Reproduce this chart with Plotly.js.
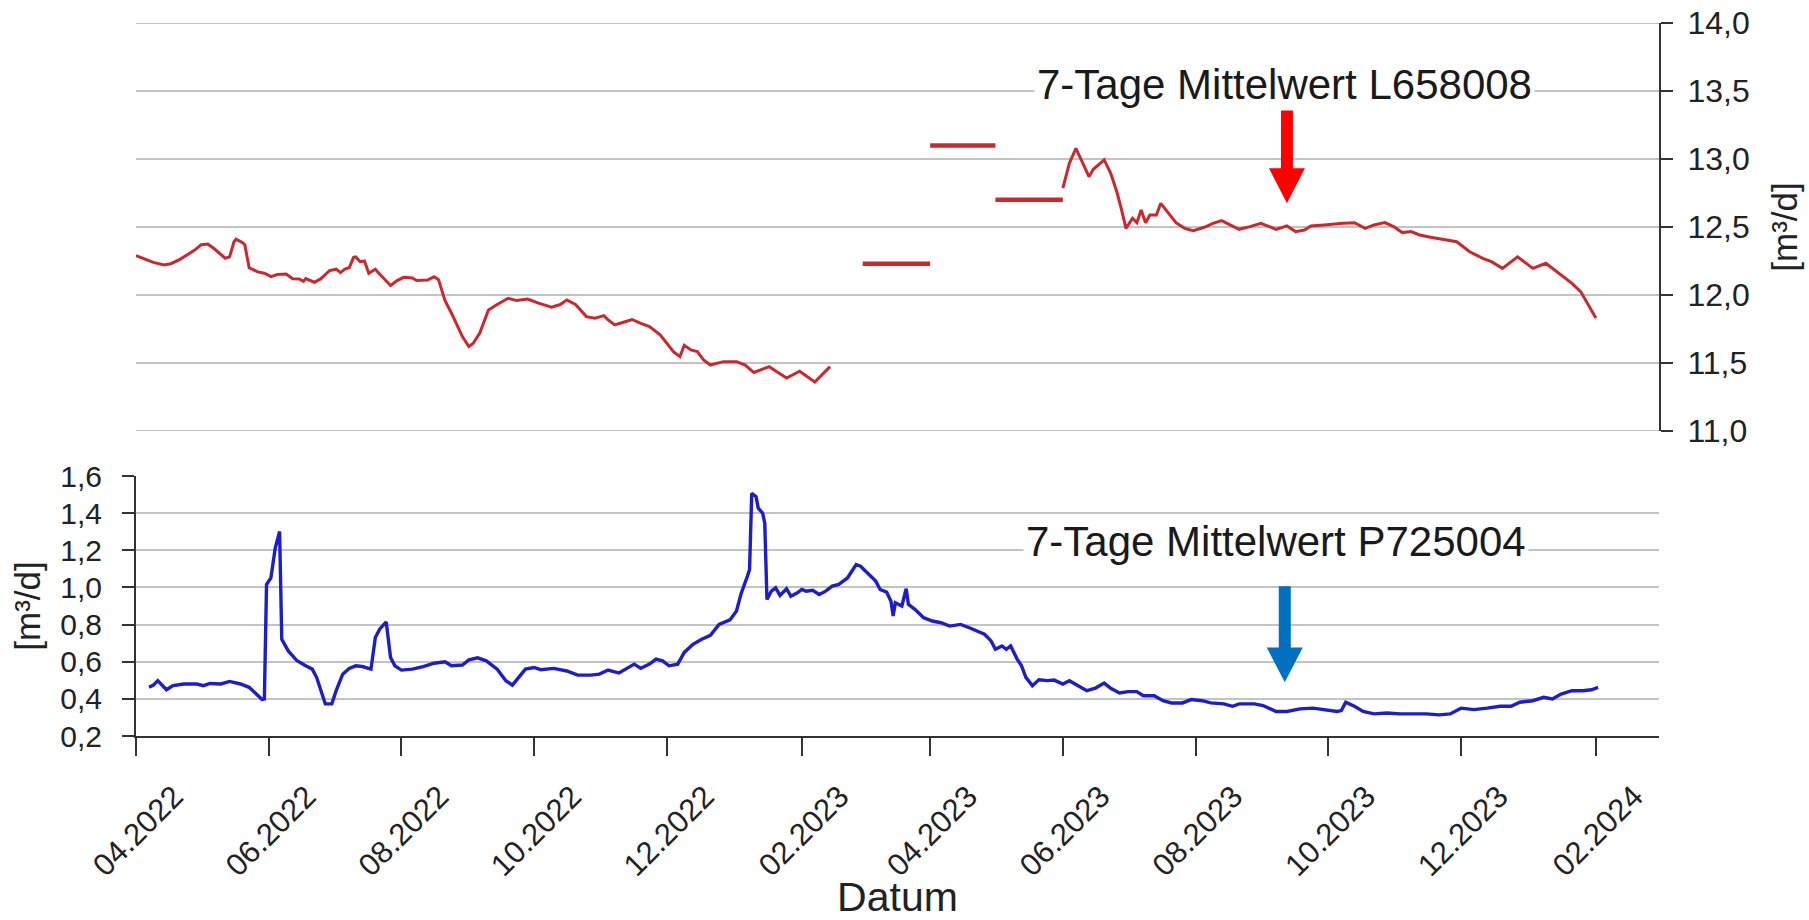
<!DOCTYPE html>
<html>
<head>
<meta charset="utf-8">
<script src="https://cdn.plot.ly/plotly-3.0.1.min.js"></script>
<style>html,body{margin:0;padding:0;background:#fff;}#chart{width:1809px;height:920px;}</style>
</head>
<body>
<div id="chart"></div>
<script>
// ---- Data ----
const redDates1 = ['2022-04-01','2022-04-04','2022-04-09','2022-04-14','2022-04-17','2022-04-21','2022-04-25','2022-04-28','2022-05-01','2022-05-04','2022-05-07','2022-05-10','2022-05-12','2022-05-14','2022-05-16','2022-05-17','2022-05-20','2022-05-21','2022-05-23','2022-05-27','2022-05-30','2022-06-02','2022-06-05','2022-06-09','2022-06-12','2022-06-15','2022-06-17','2022-06-18','2022-06-22','2022-06-25','2022-06-29','2022-07-02','2022-07-04','2022-07-06','2022-07-08','2022-07-10','2022-07-11','2022-07-13','2022-07-15','2022-07-17','2022-07-20','2022-07-21','2022-07-24','2022-07-27','2022-07-30','2022-08-02','2022-08-06','2022-08-08','2022-08-13','2022-08-16','2022-08-18','2022-08-21','2022-08-24','2022-08-27','2022-08-29','2022-09-01','2022-09-03','2022-09-06','2022-09-10','2022-09-14','2022-09-19','2022-09-23','2022-09-28','2022-10-03','2022-10-09','2022-10-13','2022-10-16','2022-10-20','2022-10-25','2022-10-29','2022-11-02','2022-11-04','2022-11-07','2022-11-11','2022-11-15','2022-11-19','2022-11-23','2022-11-28','2022-12-01','2022-12-04','2022-12-07','2022-12-09','2022-12-12','2022-12-15','2022-12-18','2022-12-21','2022-12-27','2023-01-02','2023-01-06','2023-01-10','2023-01-17','2023-01-25','2023-01-31','2023-02-07','2023-02-14'];
const redVals1 = [12.29,12.27,12.24,12.22,12.23,12.26,12.30,12.33,12.37,12.375,12.34,12.30,12.27,12.28,12.39,12.41,12.385,12.37,12.20,12.17,12.16,12.135,12.15,12.155,12.12,12.118,12.10,12.12,12.094,12.12,12.18,12.19,12.165,12.19,12.20,12.277,12.28,12.245,12.25,12.16,12.19,12.17,12.12,12.07,12.106,12.13,12.125,12.106,12.11,12.135,12.115,11.96,11.866,11.756,11.694,11.62,11.645,11.72,11.89,11.93,11.976,11.959,11.97,11.94,11.91,11.93,11.964,11.93,11.841,11.829,11.848,11.817,11.78,11.80,11.82,11.792,11.768,11.706,11.645,11.584,11.547,11.63,11.596,11.584,11.52,11.485,11.51,11.51,11.485,11.43,11.473,11.39,11.44,11.36,11.473];

const redDates2 = ['2023-06-01','2023-06-04','2023-06-07','2023-06-10','2023-06-13','2023-06-15','2023-06-20','2023-06-23','2023-06-26','2023-06-28','2023-06-30','2023-07-03','2023-07-05','2023-07-07','2023-07-09','2023-07-11','2023-07-14','2023-07-16','2023-07-19','2023-07-23','2023-07-27','2023-07-31','2023-08-05','2023-08-09','2023-08-13','2023-08-17','2023-08-21','2023-08-26','2023-08-31','2023-09-03','2023-09-07','2023-09-12','2023-09-16','2023-09-20','2023-09-23','2023-09-29','2023-10-03','2023-10-08','2023-10-13','2023-10-18','2023-10-22','2023-10-27','2023-10-31','2023-11-04','2023-11-08','2023-11-12','2023-11-17','2023-11-23','2023-11-29','2023-12-05','2023-12-11','2023-12-15','2023-12-20','2023-12-27','2024-01-03','2024-01-09','2024-01-15','2024-01-21','2024-01-25','2024-01-28','2024-02-01'];
const redVals2 = [12.785,12.968,13.079,12.968,12.87,12.924,12.993,12.895,12.748,12.625,12.49,12.564,12.532,12.625,12.532,12.588,12.588,12.674,12.613,12.532,12.49,12.473,12.498,12.527,12.547,12.515,12.483,12.503,12.527,12.508,12.483,12.508,12.466,12.478,12.508,12.515,12.522,12.527,12.532,12.49,12.515,12.532,12.503,12.459,12.466,12.441,12.424,12.41,12.392,12.318,12.27,12.245,12.196,12.28,12.196,12.233,12.16,12.086,12.025,11.94,11.83];

// monthly mean segments (gap period)
const monthStart = ['2023-03-01','2023-04-01','2023-05-01'];
const monthEnd   = ['2023-04-01','2023-05-01','2023-06-01'];
const monthVals  = [12.23, 13.10, 12.70];

const blueDates = ['2022-04-07','2022-04-09','2022-04-11','2022-04-14','2022-04-15','2022-04-18','2022-04-23','2022-04-29','2022-05-02','2022-05-05','2022-05-10','2022-05-14','2022-05-19','2022-05-23','2022-05-26','2022-05-29','2022-05-30','2022-05-31','2022-06-02','2022-06-04','2022-06-06','2022-06-07','2022-06-10','2022-06-14','2022-06-18','2022-06-21','2022-06-23','2022-06-25','2022-06-27','2022-06-30','2022-07-02','2022-07-05','2022-07-08','2022-07-11','2022-07-14','2022-07-18','2022-07-20','2022-07-22','2022-07-25','2022-07-27','2022-07-29','2022-08-01','2022-08-06','2022-08-11','2022-08-16','2022-08-21','2022-08-24','2022-08-29','2022-09-01','2022-09-05','2022-09-09','2022-09-14','2022-09-18','2022-09-21','2022-09-24','2022-09-27','2022-10-01','2022-10-04','2022-10-10','2022-10-16','2022-10-21','2022-10-27','2022-10-31','2022-11-04','2022-11-09','2022-11-13','2022-11-16','2022-11-19','2022-11-23','2022-11-26','2022-11-29','2022-12-02','2022-12-06','2022-12-09','2022-12-13','2022-12-17','2022-12-21','2022-12-25','2022-12-30','2023-01-02','2023-01-04','2023-01-07','2023-01-08','2023-01-09','2023-01-11','2023-01-12','2023-01-14','2023-01-15','2023-01-16','2023-01-18','2023-01-20','2023-01-22','2023-01-25','2023-01-27','2023-01-30','2023-02-01','2023-02-03','2023-02-06','2023-02-09','2023-02-12','2023-02-15','2023-02-18','2023-02-22','2023-02-24','2023-02-26','2023-02-28','2023-03-03','2023-03-07','2023-03-09','2023-03-12','2023-03-14','2023-03-15','2023-03-16','2023-03-19','2023-03-21','2023-03-22','2023-03-25','2023-03-29','2023-04-02','2023-04-06','2023-04-10','2023-04-15','2023-04-19','2023-04-22','2023-04-26','2023-04-29','2023-05-01','2023-05-04','2023-05-06','2023-05-08','2023-05-11','2023-05-13','2023-05-15','2023-05-18','2023-05-21','2023-05-25','2023-05-28','2023-06-01','2023-06-04','2023-06-08','2023-06-12','2023-06-16','2023-06-20','2023-06-23','2023-06-27','2023-07-01','2023-07-05','2023-07-08','2023-07-13','2023-07-17','2023-07-21','2023-07-26','2023-07-30','2023-08-04','2023-08-08','2023-08-14','2023-08-18','2023-08-21','2023-08-28','2023-09-01','2023-09-07','2023-09-12','2023-09-18','2023-09-24','2023-09-29','2023-10-05','2023-10-07','2023-10-09','2023-10-13','2023-10-17','2023-10-22','2023-10-28','2023-11-03','2023-11-09','2023-11-15','2023-11-21','2023-11-26','2023-12-01','2023-12-07','2023-12-13','2023-12-19','2023-12-24','2023-12-28','2024-01-03','2024-01-08','2024-01-12','2024-01-16','2024-01-21','2024-01-26','2024-01-30','2024-02-02'];
const blueVals = [0.462,0.474,0.498,0.462,0.449,0.471,0.48,0.48,0.471,0.483,0.48,0.494,0.48,0.462,0.426,0.396,0.399,1.016,1.051,1.212,1.301,0.721,0.658,0.605,0.578,0.56,0.516,0.444,0.373,0.373,0.444,0.533,0.564,0.578,0.574,0.56,0.73,0.775,0.814,0.623,0.578,0.555,0.56,0.574,0.592,0.60,0.578,0.582,0.61,0.621,0.605,0.56,0.498,0.474,0.515,0.56,0.569,0.557,0.564,0.55,0.528,0.528,0.533,0.555,0.539,0.564,0.587,0.564,0.587,0.614,0.605,0.578,0.587,0.65,0.694,0.721,0.742,0.801,0.825,0.873,0.962,1.06,1.096,1.507,1.489,1.427,1.40,1.346,0.935,0.98,0.998,0.957,0.993,0.953,0.971,0.989,0.98,0.985,0.962,0.98,1.007,1.016,1.051,1.087,1.123,1.114,1.078,1.034,0.989,0.975,0.926,0.846,0.917,0.90,0.993,0.909,0.882,0.837,0.819,0.81,0.792,0.801,0.783,0.766,0.748,0.712,0.667,0.685,0.667,0.685,0.614,0.578,0.516,0.471,0.503,0.498,0.501,0.48,0.498,0.471,0.444,0.458,0.485,0.457,0.432,0.439,0.439,0.417,0.417,0.39,0.378,0.378,0.396,0.39,0.378,0.373,0.36,0.373,0.373,0.364,0.332,0.332,0.346,0.35,0.342,0.332,0.337,0.382,0.36,0.332,0.319,0.324,0.319,0.319,0.319,0.314,0.319,0.35,0.342,0.35,0.36,0.36,0.382,0.39,0.408,0.399,0.426,0.444,0.444,0.449,0.462];

const tickVals = ['2022-04-01','2022-06-01','2022-08-01','2022-10-01','2022-12-01','2023-02-01','2023-04-01','2023-06-01','2023-08-01','2023-10-01','2023-12-01','2024-02-01'];
const tickText = ['04.2022','06.2022','08.2022','10.2022','12.2022','02.2023','04.2023','06.2023','08.2023','10.2023','12.2023','02.2024'];
const topRange = [11, 14];
const bottomRange = [0.2, 1.6];

const labelTop = '7-Tage Mittelwert L658008';
const labelBottom = '7-Tage Mittelwert P725004';
const unitLabel = '[m³/d]';
const xTitle = 'Datum';

// ---- Build traces ----
const segX = [], segY = [];
monthStart.forEach((s, i) => { segX.push(s, monthEnd[i], null); segY.push(monthVals[i], monthVals[i], null); });

const RED = 'rgb(204,40,44)';
const BLUE = 'rgb(30,30,200)';

const traces = [
  {x: redDates1, y: redVals1, xaxis: 'x2', yaxis: 'y2', type: 'scatter', mode: 'lines', line: {color: RED, width: 3}, hoverinfo: 'skip'},
  {x: segX, y: segY, xaxis: 'x2', yaxis: 'y2', type: 'scatter', mode: 'lines', line: {color: RED, width: 4.5}, connectgaps: false, hoverinfo: 'skip'},
  {x: redDates2, y: redVals2, xaxis: 'x2', yaxis: 'y2', type: 'scatter', mode: 'lines', line: {color: RED, width: 3}, hoverinfo: 'skip'},
  {x: blueDates, y: blueVals, xaxis: 'x', yaxis: 'y', type: 'scatter', mode: 'lines', line: {color: BLUE, width: 3.4}, hoverinfo: 'skip'}
];

const W = 1809, H = 920;
const xDom = [136 / W, 1659 / W];
const FONT = 'Liberation Sans, Arial, sans-serif';
const AX = '#333333';
const GRID = '#c3c3c3';

// edge gridlines of the top panel (Plotly skips grid at the range ends)
const edgeGrid = topRange.map(v => ({
  type: 'line', xref: 'x2 domain', yref: 'y2', x0: 0, x1: 1, y0: v, y1: v,
  line: {color: GRID, width: 2}, layer: 'below'
}));

const layout = {
  width: W, height: H,
  margin: {l: 0, r: 0, t: 0, b: 0},
  paper_bgcolor: '#ffffff', plot_bgcolor: 'rgba(0,0,0,0)',
  showlegend: false,
  separators: ',.',
  font: {family: FONT, color: '#222222'},
  xaxis: {
    domain: xDom, anchor: 'y', type: 'date', range: ['2022-04-01', '2024-03-01'],
    tickmode: 'array', tickvals: tickVals, ticktext: tickText, tickangle: -45,
    ticks: 'outside', ticklen: 18, tickwidth: 2, tickcolor: AX,
    showline: true, linecolor: AX, linewidth: 2, showgrid: false, zeroline: false,
    tickfont: {size: 31, family: FONT, color: '#222'},
    ticklabelshift: 38, ticklabelstandoff: 10,
    title: {text: xTitle, font: {size: 41, family: FONT, color: '#222'}, standoff: 20}
  },
  yaxis: {
    domain: [(H - 736) / H, (H - 476) / H], anchor: 'x', range: bottomRange,
    tick0: 0.2, dtick: 0.2, tickformat: '.1f',
    ticks: 'outside', ticklen: 12, tickwidth: 2, tickcolor: AX,
    showline: true, linecolor: AX, linewidth: 2,
    showgrid: true, gridcolor: GRID, gridwidth: 2, zeroline: false,
    tickfont: {size: 30, family: FONT, color: '#222'},
    ticklabelstandoff: 14,
    title: {text: unitLabel, font: {size: 35, family: FONT, color: '#222'}, standoff: 9}
  },
  xaxis2: {domain: xDom, anchor: 'y2', type: 'date', matches: 'x', visible: false},
  yaxis2: {
    domain: [(H - 431) / H, (H - 23) / H], anchor: 'x2', side: 'right', range: topRange,
    tick0: 11, dtick: 0.5, tickformat: '.1f',
    ticks: 'outside', ticklen: 12, tickwidth: 2, tickcolor: AX,
    showline: true, linecolor: AX, linewidth: 2,
    showgrid: true, gridcolor: GRID, gridwidth: 2, zeroline: false,
    tickfont: {size: 32, family: FONT, color: '#222'},
    ticklabelstandoff: 8,
    title: {text: unitLabel, font: {size: 35, family: FONT, color: '#222'}, standoff: 24}
  },
  annotations: [
    {text: labelTop, xref: 'x2', yref: 'y2', x: '2023-09-11', y: 13.55, xanchor: 'center', yanchor: 'middle',
     showarrow: false, bgcolor: '#ffffff', borderpad: 2, font: {size: 42, family: FONT, color: '#1a1a1a'}},
    {text: labelBottom, xref: 'x', yref: 'y', x: '2023-09-07', y: 1.245, xanchor: 'center', yanchor: 'middle',
     showarrow: false, bgcolor: '#ffffff', borderpad: 2, font: {size: 42, family: FONT, color: '#1a1a1a'}}
  ],
  shapes: edgeGrid.concat([
    {type: 'path', xref: 'x2', yref: 'y2', xsizemode: 'pixel', xanchor: '2023-09-12',
     path: 'M-6,13.38 L6,13.38 L6,12.932 L18,12.932 L0,12.674 L-18,12.932 L-6,12.932 Z',
     fillcolor: '#ff0000', line: {width: 0}, layer: 'above'},
    {type: 'path', xref: 'x', yref: 'y', xsizemode: 'pixel', xanchor: '2023-09-11',
     path: 'M-6,1.007 L6,1.007 L6,0.677 L18,0.677 L0,0.489 L-18,0.677 L-6,0.677 Z',
     fillcolor: '#0070c0', line: {width: 0}, layer: 'above'}
  ])
};

Plotly.newPlot('chart', traces, layout, {staticPlot: true, displayModeBar: false});
</script>
</body>
</html>
